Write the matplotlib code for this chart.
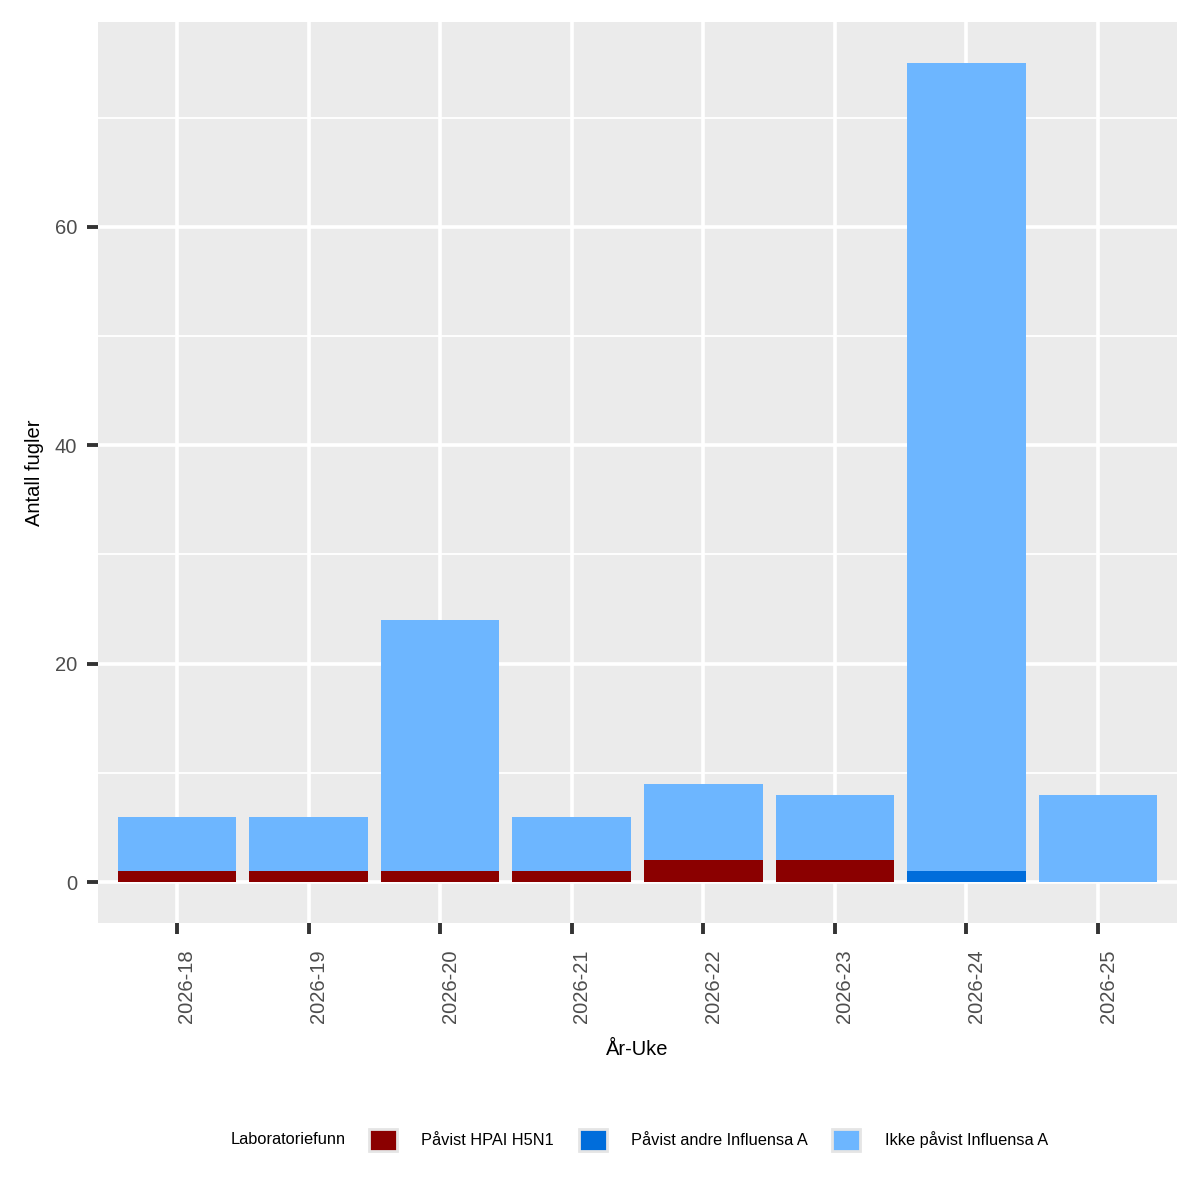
import numpy as np
import matplotlib.pyplot as plt
import matplotlib.transforms as mtransforms
from matplotlib.patches import Patch
from matplotlib.ticker import MultipleLocator

plt.rcParams['font.family'] = ['Liberation Sans', 'DejaVu Sans']

weeks = ['2026-18', '2026-19', '2026-20', '2026-21', '2026-22', '2026-23', '2026-24', '2026-25']
h5n1 = [1, 1, 1, 1, 2, 2, 0, 0]
andre = [0, 0, 0, 0, 0, 0, 1, 0]
ikke = [5, 5, 23, 5, 7, 6, 74, 8]

series = ['Påvist HPAI H5N1', 'Påvist andre Influensa A', 'Ikke påvist Influensa A']
colors = ['#8B0000', '#006DDB', '#6DB6FF']

fig = plt.figure(figsize=(12, 12), dpi=100)
ax = fig.add_axes([98 / 1200, 277 / 1200, 1079 / 1200, 901 / 1200])
ax.set_facecolor('#EBEBEB')

x = np.arange(1, len(weeks) + 1)
bottom = np.zeros(len(weeks))
for vals, col, lab in zip([h5n1, andre, ikke], colors, series):
    ax.bar(x, vals, width=0.9, bottom=bottom, color=col, label=lab, zorder=3, linewidth=0)
    bottom += np.array(vals)

total = bottom.max()
ax.set_ylim(-0.05 * total, 1.05 * total)
ax.set_xlim(0.4, len(weeks) + 0.6)
ax.set_xticks(x)
ax.set_xticklabels(weeks, rotation=90)
ax.yaxis.set_major_locator(MultipleLocator(20))
ax.yaxis.set_minor_locator(MultipleLocator(10))

ax.grid(which='major', color='white', linewidth=2.6, zorder=1)
ax.grid(which='minor', axis='y', color='white', linewidth=1.3, zorder=1)
ax.set_axisbelow(True)
for s in ax.spines.values():
    s.set_visible(False)

ax.tick_params(which='major', length=8, width=2.8, color='#333333',
               labelcolor='#4D4D4D', labelsize=14.5, pad=7)
ax.tick_params(axis='x', pad=11)
ax.tick_params(which='minor', length=0)

# ggplot places the rotated labels slightly to the right of the tick
shift = mtransforms.ScaledTranslation(10 / 100, 0, fig.dpi_scale_trans)
for lbl in ax.get_xticklabels():
    lbl.set_transform(lbl.get_transform() + shift)

ax.set_xlabel('År-Uke', fontsize=14.5, labelpad=12)
ax.set_ylabel('Antall fugler', fontsize=14.5, labelpad=8)

handles = [Patch(facecolor=c, edgecolor='#E5E5E5', linewidth=2) for c in colors]
fig.text(346 / 1200, 1 - 1140 / 1200, 'Laboratoriefunn', ha='right', va='center', fontsize=11.8)
fig.legend(handles, series, loc='center left', bbox_to_anchor=(369 / 1200, 1 - 1140 / 1200),
           ncol=3, frameon=False, fontsize=11.8, handlelength=1.7, handleheight=1.7,
           handletextpad=1.5, columnspacing=1.5, borderpad=0, borderaxespad=0)

fig.savefig('out.png', dpi=100, facecolor='white')
